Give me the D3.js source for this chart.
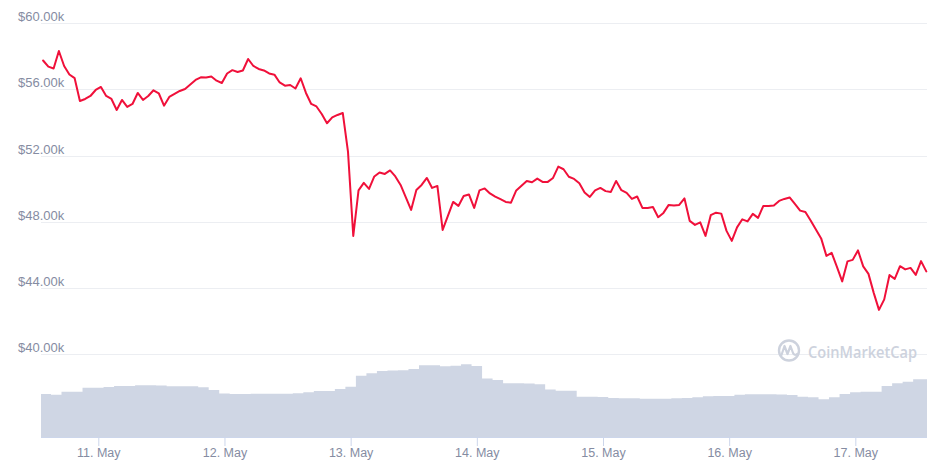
<!DOCTYPE html>
<html><head><meta charset="utf-8">
<script src="https://cdn.jsdelivr.net/npm/d3@7"></script>
<style>body{margin:0;background:#fff;} svg{display:block;font-family:"Liberation Sans",Arial,sans-serif;}</style>
</head><body><svg id="chart" width="942" height="471"></svg>
<script>
// ---- data ----
const priceStart = "2021-05-10T13:30:00Z";
const priceStepHours = 1;
const prices = [
57751,57383,57268,58326,57419,56905,56681,55303,55424,55605,
55968,56149,55605,55424,54759,55364,54940,55122,55787,55364,
55605,55950,55769,55019,55545,55726,55908,56029,56300,56572,
56736,56724,56784,56530,56391,56965,57165,57056,57147,57842,
57419,57237,57147,56965,56893,56421,56228,56270,56059,56675,
55787,55122,54971,54517,53955,54306,54457,54578,52220,47142,
49893,50346,49983,50739,50981,50890,51102,50739,50225,49470,
48714,49923,50225,50648,50044,50165,47505,48351,49198,48956,
49560,49651,48835,49893,50014,49711,49518,49361,49198,49150,
49893,50177,50467,50388,50606,50407,50407,50648,51331,51174,
50721,50588,50328,49772,49500,49893,50044,49851,49802,50467,
49905,49742,49379,49524,48835,48835,48895,48273,48533,49016,
48986,49016,49409,48049,47807,47958,47142,48394,48545,48490,
47445,46840,47656,48146,48019,48472,48230,48956,48956,48986,
49258,49379,49470,49077,48672,48593,48079,47535,46991,45933,
46115,45268,44392,45601,45692,46266,45299,44845,43697,42669,
43304,44773,44543,45311,45117,45208,44785,45619,44996
];
const volumeStart = "2021-05-10T13:00:00Z";
const volumeStepHours = 2;
const volumes = [ // 24h volume, billions USD
53.8,52.9,56.6,56.6,61.6,61.6,62.5,63.8,63.8,64.6,
64.6,64.4,63.4,63.4,63.4,62.1,58.8,54.4,53.8,53.8,
54.1,54.1,54.1,54.1,54.6,55.9,57.5,57.5,60.0,62.9,
76.6,79.6,82.5,83.1,83.4,85.0,89.6,89.6,88.4,89.1,
90.9,88.8,73.1,71.3,67.1,67.1,66.9,66.0,59.4,57.9,
57.9,50.4,50.4,50.0,48.8,48.4,48.4,47.9,47.9,47.9,
48.4,48.8,49.6,50.9,51.3,51.3,52.9,53.4,53.4,53.4,
53.1,52.5,50.4,49.6,47.1,49.6,53.8,55.9,56.6,56.6,
63.8,67.1,69.1,72.1,72.1,72.1
];
const xDomain = ["2021-05-10T13:06:00Z", "2021-05-17T13:38:00Z"];
const yTicks = [40000, 44000, 48000, 52000, 56000, 60000];
const xTickDates = ["2021-05-11","2021-05-12","2021-05-13","2021-05-14","2021-05-15","2021-05-16","2021-05-17"];
const xTickLabels = ["11. May","12. May","13. May","14. May","15. May","16. May","17. May"];
const watermark = "CoinMarketCap";

// ---- build ----
const HOUR = 3600e3;
const priceData = prices.map((v,i)=>({t:new Date(Date.parse(priceStart)+i*priceStepHours*HOUR), v}));
const volData = volumes.map((v,i)=>({t:new Date(Date.parse(volumeStart)+i*volumeStepHours*HOUR), v}));

const svg = d3.select("#chart");
const L = 41, R = 927;
const x = d3.scaleUtc().domain(xDomain.map(d=>new Date(d))).range([L, R]);
const y = d3.scaleLinear().domain([40000, 60000]).range([354, 23.3]);
const yv = d3.scaleLinear().domain([0, 100]).range([437, 357]);

svg.append("defs").append("clipPath").attr("id","clip")
  .append("rect").attr("x",L).attr("y",0).attr("width",R-L).attr("height",437);

// grid + y labels
const grid = svg.append("g");
yTicks.forEach(t=>{
  const yy = Math.round(y(t))+0.5;
  grid.append("line").attr("x1",L).attr("x2",R).attr("y1",yy).attr("y2",yy)
    .attr("stroke","#eceef2").attr("stroke-width",1);
  grid.append("text").attr("x",18).attr("y",yy-3)
    .attr("fill","#858ca2").attr("font-size","13px")
    .text("$"+d3.format(".2f")(t/1000)+"k");
});

// watermark
const wm = svg.append("g").attr("opacity",1);
wm.append("circle").attr("cx",789).attr("cy",350.5).attr("r",10).attr("fill","none")
  .attr("stroke","#cdd2dd").attr("stroke-width",2.4);
wm.append("path").attr("d","M781.5,355 L784.5,346 L787.5,354 L790.5,346 L793,353 Q794.5,356 797,354")
  .attr("fill","none").attr("stroke","#cdd2dd").attr("stroke-width",2.2).attr("stroke-linejoin","round").attr("stroke-linecap","round");
wm.append("text").attr("x",808).attr("y",357.5).attr("fill","#cdd2dd")
  .attr("font-family","'Open Sans',sans-serif").attr("font-weight",600).attr("font-size","16px")
  .attr("textLength",109).attr("lengthAdjust","spacingAndGlyphs").text(watermark);

// volume area
svg.append("path").datum(volData).attr("clip-path","url(#clip)")
  .attr("fill","#cfd6e4")
  .attr("d", d3.area().curve(d3.curveStepAfter).x(d=>x(d.t)).y0(yv(0)).y1(d=>yv(d.v)));

// x axis
const xa = svg.append("g").attr("transform","translate(0,437)")
  .call(d3.axisBottom(x).tickValues(xTickDates.map(d=>new Date(d+"T00:00:00Z")))
    .tickFormat((d,i)=>xTickLabels[i]).tickSize(9).tickSizeOuter(0));
xa.select(".domain").attr("stroke","#ccd6eb").attr("d",`M${L},0.5H${R}`);
xa.selectAll(".tick line").attr("stroke","#ccd6eb");
xa.selectAll(".tick text").attr("fill","#858ca2").attr("font-size","12.5px")
  .attr("font-family","'Liberation Sans',Arial,sans-serif").attr("dy",null).attr("y",19.5);

// price line
svg.append("path").datum(priceData)
  .attr("fill","none").attr("stroke","#f0103a").attr("stroke-width",2)
  .attr("stroke-linejoin","round").attr("stroke-linecap","round")
  .attr("d", d3.line().x(d=>x(d.t)).y(d=>y(d.v)));
</script></body></html>
